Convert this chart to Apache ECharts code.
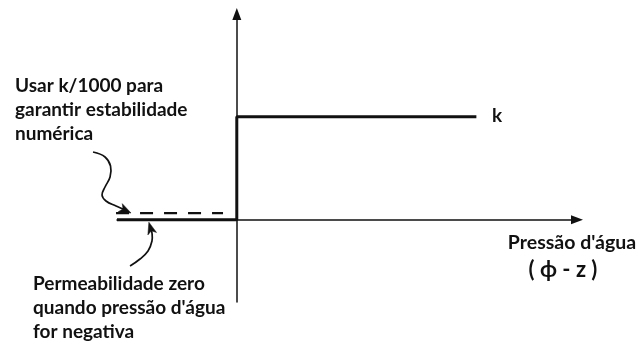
<!DOCTYPE html>
<html>
<head>
<meta charset="utf-8">
<script src="https://cdn.jsdelivr.net/npm/echarts@6/dist/echarts.min.js"></script>
<style>
html,body{margin:0;padding:0;background:#fff;}
#chart{width:636px;height:345px;}
</style>
</head>
<body>
<div id="chart"></div>
<script>
// Step curve k(pressure)
const stepX = [-1, 0, 0, 2];
const stepY = [0, 0, 1, 1];
// k/1000 dashed line (schematic offset)
const dashedX = [-1.008, -0.115];
const dashedY = [0.065, 0.065];
// Annotation arrow (upper note), last point = arrow tip
const arrowUpperX = [-1.200, -1.100, -1.054, -1.058, -1.100, -1.125, -1.092, -1.008, -0.950, -0.883];
const arrowUpperY = [0.658, 0.610, 0.522, 0.415, 0.318, 0.240, 0.182, 0.133, 0.104, 0.065];
// Annotation arrow (lower note), last point = arrow tip
const arrowLowerX = [-0.891, -0.808, -0.741, -0.708, -0.708, -0.734];
const arrowLowerY = [-0.450, -0.382, -0.304, -0.207, -0.129, -0.024];
// Texts
const noteUpper = ['Usar k/1000 para', 'garantir estabilidade', 'numérica'];
const noteLower = ['Permeabilidade zero', 'quando pressão d\'água', 'for negativa'];
const xAxisTitle = ['Pressão d\'água', '( ϕ - z )'];
const levelLabel = 'k';

const ink = '#111';
const fam = 'Lato, "Open Sans", sans-serif';
const font = 'bold 19px ' + fam;

const chart = echarts.init(document.getElementById('chart'), null, {renderer: 'canvas'});
const zip = (a, b) => a.map((v, i) => [v, b[i]]);
const curves = [zip(arrowUpperX, arrowUpperY), zip(arrowLowerX, arrowLowerY)];

function textLines(lines, x, y0, step) {
  return lines.map((t, i) => ({
    type: 'text', x: x, y: y0 + i * step,
    style: {text: t, font: font, fill: ink, align: 'left', verticalAlign: 'middle'}
  }));
}

function renderArrow(params, api) {
  const pts = curves[api.value(0)].map(p => api.coord(p));
  const tip = pts[pts.length - 1];
  const prev = pts[pts.length - 2];
  const dx = tip[0] - prev[0], dy = tip[1] - prev[1];
  const len = Math.sqrt(dx * dx + dy * dy) || 1;
  const ux = dx / len, uy = dy / len;
  const headL = 12, headW = 4.5;
  const base = [tip[0] - ux * headL, tip[1] - uy * headL];
  const linePts = pts.slice(0, pts.length - 1).concat([[tip[0] - ux * headL * 0.6, tip[1] - uy * headL * 0.6]]);
  return {
    type: 'group',
    children: [
      {type: 'polyline', shape: {points: linePts, smooth: 0.4},
        style: {stroke: ink, lineWidth: 1.7, fill: null}},
      {type: 'polygon', shape: {points: [tip,
        [base[0] - uy * headW, base[1] + ux * headW],
        [tip[0] - ux * headL * 0.75, tip[1] - uy * headL * 0.75],
        [base[0] + uy * headW, base[1] - ux * headW]]},
        style: {fill: ink, stroke: ink, lineWidth: 0.5}}
    ]
  };
}

const axisCommon = {
  type: 'value',
  axisLabel: {show: false},
  axisTick: {show: false},
  splitLine: {show: false},
  axisLine: {show: true, onZero: true, symbol: ['none', 'triangle'], symbolSize: [9, 12],
    lineStyle: {color: ink, width: 1.5}}
};

chart.setOption({
  animation: false,
  backgroundColor: '#fff',
  grid: {left: 117, right: 59, top: 14, bottom: 43},
  xAxis: Object.assign({}, axisCommon, {min: -1, max: 2.84}),
  yAxis: Object.assign({}, axisCommon, {min: -0.8, max: 2}),
  series: [
    {type: 'line', data: zip(stepX, stepY), symbol: 'none', lineStyle: {color: ink, width: 3}, z: 3},
    {type: 'line', data: zip(dashedX, dashedY), symbol: 'none',
      lineStyle: {color: ink, width: 2.2, type: [13, 11]}, z: 3},
    {type: 'custom', renderItem: renderArrow, clip: false, silent: true,
      encode: {x: 0, y: 1}, data: [[0, 0], [1, 0]]}
  ],
  graphic: [].concat(
    textLines(noteUpper, 15, 86, 24),
    textLines(noteLower, 33, 284, 24),
    [{type: 'text', x: 572, y: 243, style: {text: xAxisTitle[0], font: 'bold 19.5px ' + fam, fill: ink, align: 'center', verticalAlign: 'middle'}},
     {type: 'text', x: 563, y: 270, style: {text: xAxisTitle[1], font: 'bold 22px ' + fam, fill: ink, align: 'center', verticalAlign: 'middle'}},
     {type: 'text', x: 492, y: 116, style: {text: levelLabel, font: font, fill: ink, align: 'left', verticalAlign: 'middle'}}]
  )
});
</script>
</body>
</html>
